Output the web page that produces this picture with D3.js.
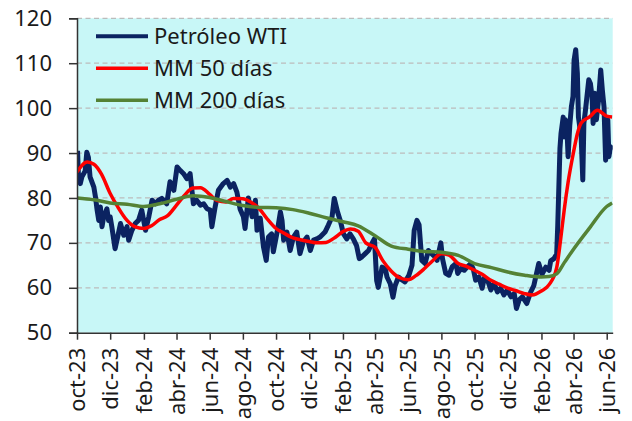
<!DOCTYPE html>
<html lang="es">
<head>
<meta charset="utf-8">
<title>Petróleo WTI</title>
<script src="https://cdn.jsdelivr.net/npm/d3@7"></script>
<style>
  body { margin: 0; background: #fff; }
  text { font-family: "Noto Sans", sans-serif; fill: #1a1a1a; }
</style>
</head>
<body>
<div id="chart"></div>
<script>
// WTI price, every few days
const wtiDates = [
  "2023-10-02","2023-10-04","2023-10-07","2023-10-10","2023-10-16","2023-10-19","2023-10-22","2023-10-25","2023-11-01","2023-11-04",
  "2023-11-07","2023-11-10","2023-11-13","2023-11-16","2023-11-19","2023-11-25","2023-11-28","2023-12-01","2023-12-04","2023-12-10",
  "2023-12-16","2023-12-20","2023-12-26","2024-01-01","2024-01-04","2024-01-10","2024-01-16","2024-01-22","2024-01-28","2024-02-04",
  "2024-02-10","2024-02-16","2024-02-22","2024-02-28","2024-03-05","2024-03-14","2024-03-20","2024-03-27","2024-04-02","2024-04-08",
  "2024-04-14","2024-04-20","2024-04-26","2024-05-02","2024-05-08","2024-05-15","2024-05-21","2024-05-27","2024-06-02","2024-06-05",
  "2024-06-11","2024-06-17","2024-06-26","2024-07-03","2024-07-09","2024-07-15","2024-07-21","2024-07-27","2024-08-02","2024-08-05",
  "2024-08-11","2024-08-18","2024-08-24","2024-08-27","2024-09-02","2024-09-08","2024-09-13","2024-09-17","2024-09-23","2024-09-26",
  "2024-10-03","2024-10-09","2024-10-12","2024-10-15","2024-10-21","2024-10-27","2024-11-02","2024-11-08","2024-11-14","2024-11-20",
  "2024-11-27","2024-12-03","2024-12-09","2024-12-15","2024-12-21","2024-12-30","2025-01-05","2025-01-12","2025-01-16","2025-01-22",
  "2025-01-27","2025-02-02","2025-02-08","2025-02-14","2025-02-20","2025-02-26","2025-03-03","2025-03-08","2025-03-14","2025-03-20",
  "2025-03-26","2025-03-31","2025-04-04","2025-04-07","2025-04-14","2025-04-20","2025-04-23","2025-04-29","2025-05-04","2025-05-08",
  "2025-05-14","2025-05-20","2025-05-26","2025-06-02","2025-06-08","2025-06-12","2025-06-17","2025-06-21","2025-06-26","2025-07-02",
  "2025-07-08","2025-07-14","2025-07-21","2025-07-24","2025-07-31","2025-08-03","2025-08-09","2025-08-15","2025-08-21","2025-08-28",
  "2025-08-31","2025-09-06","2025-09-12","2025-09-18","2025-09-24","2025-09-29","2025-10-03","2025-10-09","2025-10-15","2025-10-19",
  "2025-10-25","2025-10-31","2025-11-06","2025-11-12","2025-11-18","2025-11-24","2025-11-30","2025-12-07","2025-12-13","2025-12-17",
  "2025-12-22","2025-12-28","2026-01-05","2026-01-12","2026-01-18","2026-01-27","2026-02-02","2026-02-09","2026-02-15","2026-02-18",
  "2026-02-24","2026-03-01","2026-03-03","2026-03-07","2026-03-09","2026-03-13","2026-03-15","2026-03-17","2026-03-20","2026-03-22",
  "2026-03-25","2026-03-28","2026-03-31","2026-04-02","2026-04-05","2026-04-08","2026-04-10","2026-04-15","2026-04-18","2026-04-20",
  "2026-04-23","2026-04-29","2026-05-02","2026-05-05","2026-05-07","2026-05-10","2026-05-13","2026-05-17","2026-05-21","2026-05-24",
  "2026-05-27","2026-05-30","2026-06-01","2026-06-03","2026-06-05","2026-06-08","2026-06-11"
];
const wtiValues = [
  90.5, 84, 83.2, 84.7, 86, 90.2, 89, 84.7, 82.4, 80.2,
  77.3, 75, 78, 73.6, 75.8, 77.6, 75, 75.8, 73.6, 68.7,
  72, 74.3, 71.7, 73.6, 70.6, 72.8, 74.3, 75, 77.3, 72.8,
  75.8, 79.5, 78.7, 79.5, 79.9, 78.7, 83.6, 81.7, 86.9, 86.1,
  85.4, 84.3, 85.4, 78.7, 79.5, 78.4, 78.7, 77.6, 77.3, 73.6,
  78, 81.7, 83.2, 83.9, 82.4, 83.2, 81.3, 77.5, 75.8, 73.2,
  80, 75.8, 79.5, 72.8, 75.5, 69, 66.1, 71.3, 72, 68,
  72.4, 76.9, 75, 70.6, 72.4, 68.3, 71.3, 72.4, 67.6, 70.2,
  71.3, 68.3, 70.6, 70.9, 71.3, 72.4, 73.9, 75.8, 79.9, 76.9,
  75, 72, 70.9, 72, 70.9, 69.4, 66.5, 66.9, 67.6, 68.3,
  69.8, 70.9, 61.6, 60.1, 64.6, 64.2, 62.4, 60.9, 57.9, 60.5,
  62.4, 61.8, 61.3, 62.7, 65, 72.8, 75, 74, 66.1, 65.4,
  68.3, 67.6, 66.8, 66.1, 70, 66.5, 63.2, 62.8, 64.7, 65.4,
  63.2, 64.3, 63.9, 64.7, 65.4, 64, 61.7, 62.4, 59.9, 62.2,
  61.7, 59.5, 61, 59.1, 59.9, 58.4, 59.5, 58, 58.7, 55.4,
  57.3, 58, 56.5, 59, 60.5, 65.4, 63, 64.6, 63.9, 66,
  66.5, 67.5, 74, 91, 94.4, 98, 93.6, 97.4, 95, 89.2,
  96, 100.3, 102.6, 110.7, 113, 107.8, 98, 93.6, 84, 96.6,
  99.6, 106.3, 105.5, 102.6, 96.6, 103.3, 97.4, 101.8, 108.5, 104,
  100.3, 88.4, 92.9, 97.4, 89.2, 91.4, 90.7
];

// 50-day moving average
const ma50Dates = [
  "2023-10-01","2023-10-20","2023-11-01","2023-11-15","2023-12-01","2023-12-15",
  "2024-01-01","2024-01-15","2024-02-01","2024-02-15","2024-03-01","2024-03-15","2024-04-01","2024-04-15","2024-05-01","2024-05-15","2024-06-01","2024-06-15",
  "2024-07-01","2024-07-15","2024-08-01","2024-08-15","2024-09-01","2024-09-15","2024-10-01","2024-10-15","2024-11-01","2024-11-15","2024-12-01","2024-12-15",
  "2025-01-01","2025-01-15","2025-02-01","2025-02-15","2025-03-01","2025-03-15","2025-04-01","2025-04-15","2025-05-01","2025-05-15","2025-06-01","2025-06-15",
  "2025-07-01","2025-07-15","2025-08-01","2025-08-15","2025-09-01","2025-09-15","2025-10-01","2025-10-15","2025-11-01","2025-11-15","2025-12-01","2025-12-15",
  "2026-01-01","2026-01-15","2026-02-01","2026-02-15","2026-03-01","2026-03-08","2026-03-15","2026-03-22","2026-04-01","2026-04-08","2026-04-15",
  "2026-05-01","2026-05-15","2026-06-01","2026-06-11"
];
const ma50Values = [
  85.8, 88, 87.5, 85.3, 81, 78,
  75, 73.6, 73.2, 73.8, 75.2, 76, 78.4, 80.5, 82.2, 82.3, 80.8, 79.4,
  79.1, 79.9, 79.8, 79.1, 77.5, 75.3, 73.2, 72.2, 71.1, 70.7, 70.3, 70,
  70.1, 71, 72.5, 73.1, 72.6, 70, 69, 66.1, 63.7, 62.3, 61.8, 62.7,
  64.3, 65.9, 67.6, 67.3, 65.4, 64.8, 63.9, 63, 61.6, 60.8, 59.9, 59.4,
  58.7, 58.4, 59.3, 60.7, 64.5, 70.5, 77.5, 83.5, 90.2, 94.3, 96.7,
  98.1, 99.5, 98.2, 98
];

// 200-day moving average
const ma200Dates = [
  "2023-10-01","2023-11-01","2023-12-01",
  "2024-01-01","2024-02-01","2024-03-01","2024-04-01","2024-05-01","2024-06-01","2024-07-01","2024-08-01","2024-09-01","2024-10-01","2024-11-01","2024-12-01",
  "2025-01-01","2025-02-01","2025-03-01","2025-04-01","2025-05-01","2025-06-01","2025-07-01","2025-08-01","2025-09-01","2025-10-01","2025-11-01","2025-12-01",
  "2026-01-01","2026-02-01","2026-02-15","2026-03-01","2026-03-15","2026-04-01","2026-05-01","2026-06-01","2026-06-11"
];
const ma200Values = [
  80, 79.6, 78.9,
  78.6, 78.1, 78.7, 79.7, 80.5, 80.1, 79.2, 78.3, 77.9, 77.8, 77.4, 76.6,
  75.6, 74.7, 73.8, 71.6, 69.3, 68.6, 68.1, 67.9, 67.2, 65.4, 64.5, 63.5,
  62.8, 62.4, 62.5, 63.1, 65.6, 68.6, 73.4, 78.1, 78.9
];

const tickDates = ["2023-10-01","2023-12-01","2024-02-01","2024-04-01","2024-06-01","2024-08-01","2024-10-01","2024-12-01",
  "2025-02-01","2025-04-01","2025-06-01","2025-08-01","2025-10-01","2025-12-01","2026-02-01","2026-04-01","2026-06-01"];
const tickLabels = ["oct-23","dic-23","feb-24","abr-24","jun-24","ago-24","oct-24","dic-24",
  "feb-25","abr-25","jun-25","ago-25","oct-25","dic-25","feb-26","abr-26","jun-26"];
const yTicks = [50, 60, 70, 80, 90, 100, 110, 120];

const seriesNames = ["Petróleo WTI", "MM 50 días", "MM 200 días"];
const seriesColors = ["#0b2361", "#ff0000", "#548235"];

const parse = d3.timeParse("%Y-%m-%d");
const zip = (ds, vs) => ds.map((d, i) => ({date: parse(d), value: vs[i]}));
const wti = zip(wtiDates, wtiValues);
const ma50 = zip(ma50Dates, ma50Values);
const ma200 = zip(ma200Dates, ma200Values);

const W = 632, H = 421;
const margin = {top: 18.3, right: 19.3, bottom: 88.3, left: 77};
const width = W - margin.left - margin.right,
      height = H - margin.top - margin.bottom;

const svg = d3.select("#chart").append("svg")
  .attr("width", W).attr("height", H);
const g = svg.append("g")
  .attr("transform", "translate(" + margin.left + "," + margin.top + ")");

const x = d3.scaleTime()
  .domain([parse("2023-10-01"), parse("2026-06-12")])
  .range([0, width]);
const y = d3.scaleLinear().domain([50, 120]).range([height, 0]);

// plot background
g.append("rect")
  .attr("width", width).attr("height", height)
  .attr("fill", "#c8f7f7");

// dashed gridlines
g.append("g")
  .selectAll("line")
  .data(yTicks.filter(v => v > 50))
  .join("line")
  .attr("x1", 0).attr("x2", width)
  .attr("y1", d => y(d)).attr("y2", d => y(d))
  .attr("stroke", "#bcbcbc")
  .attr("stroke-width", 1.3)
  .attr("stroke-dasharray", "5,3.5");

g.append("clipPath").attr("id", "clip")
  .append("rect").attr("width", width).attr("height", height);

const line = d3.line()
  .x(d => x(d.date))
  .y(d => y(d.value));
const smooth = d3.line()
  .curve(d3.curveMonotoneX)
  .x(d => x(d.date))
  .y(d => y(d.value));

const plot = g.append("g").attr("clip-path", "url(#clip)");
plot.append("path").datum(wti)
  .attr("fill", "none").attr("stroke", seriesColors[0])
  .attr("stroke-width", 5).attr("stroke-linejoin", "round")
  .attr("d", line);
plot.append("path").datum(ma50)
  .attr("fill", "none").attr("stroke", seriesColors[1])
  .attr("stroke-width", 3.5).attr("stroke-linejoin", "round")
  .attr("d", smooth);
plot.append("path").datum(ma200)
  .attr("fill", "none").attr("stroke", seriesColors[2])
  .attr("stroke-width", 3.5).attr("stroke-linejoin", "round")
  .attr("d", smooth);

// y axis
const yAxis = g.append("g")
  .call(d3.axisLeft(y).tickValues(yTicks).tickSize(8).tickPadding(17));
yAxis.select(".domain").attr("stroke", "#333").attr("stroke-width", 1.5);
yAxis.selectAll(".tick line").attr("stroke", "#333").attr("stroke-width", 1.5);
yAxis.selectAll("text").style("font-size", "22px").attr("fill", "#1a1a1a")
  .attr("font-family", "Noto Sans");

// x axis
const xAxis = g.append("g")
  .attr("transform", "translate(0," + height + ")")
  .call(d3.axisBottom(x)
    .tickValues(tickDates.map(parse))
    .tickFormat((d, i) => tickLabels[i])
    .tickSize(7).tickSizeOuter(0));
xAxis.select(".domain").attr("stroke", "#333").attr("stroke-width", 1.5);
xAxis.selectAll(".tick line").attr("stroke", "#333").attr("stroke-width", 1.5);
xAxis.selectAll("text")
  .style("font-size", "22px").attr("fill", "#1a1a1a")
  .attr("text-anchor", "end")
  .attr("transform", "rotate(-90)")
  .attr("x", -15).attr("y", 0).attr("dy", "0.35em");

// legend
const legend = g.append("g").attr("transform", "translate(19,0)");
seriesNames.forEach((name, i) => {
  const row = legend.append("g").attr("transform", "translate(0," + (18 + i * 32) + ")");
  row.append("line")
    .attr("x1", 0).attr("x2", 52)
    .attr("stroke", seriesColors[i])
    .attr("stroke-width", i === 0 ? 4 : 3.5);
  row.append("text")
    .attr("x", 58).attr("dy", "0.35em")
    .style("font-size", "22px")
    .text(name);
});
</script>
</body>
</html>
